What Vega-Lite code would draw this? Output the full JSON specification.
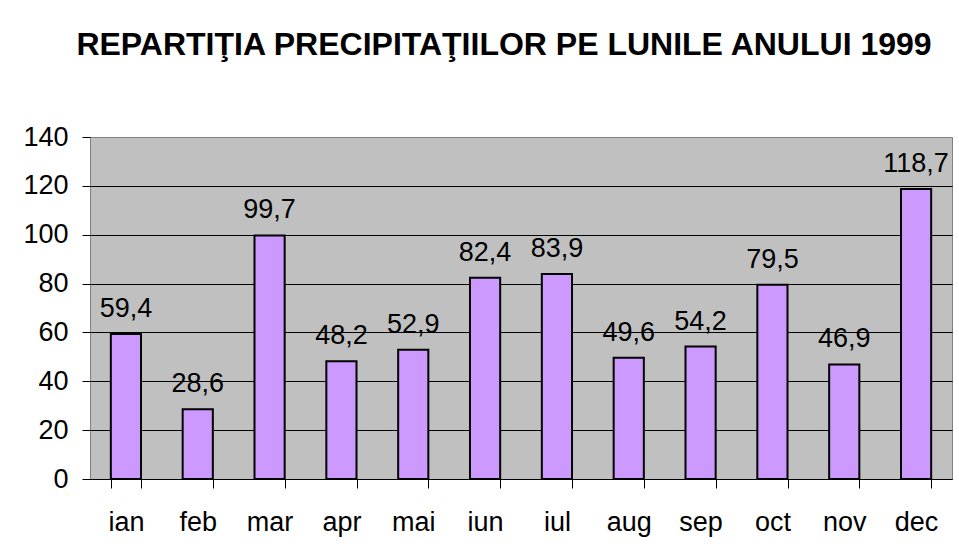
{
  "$schema": "https://vega.github.io/schema/vega-lite/v6.json",
  "autosize": {"type": "none"},
  "padding": {"left": 90, "top": 137, "right": 7, "bottom": 72},
  "width": 862,
  "height": 342,
  "background": "white",
  "title": {
    "text": "REPARTIŢIA PRECIPITAŢIILOR PE LUNILE ANULUI 1999",
    "font": "Liberation Sans",
    "fontSize": 32,
    "fontWeight": "bold",
    "color": "black",
    "anchor": "middle",
    "frame": "group",
    "baseline": "alphabetic",
    "offset": 36,
    "dx": -17
  },
  "config": {
    "locale": {"number": {"decimal": ",", "thousands": ".", "grouping": [3], "currency": ["", " lei"]}},
    "font": "Liberation Sans",
    "view": {"fill": "#C0C0C0", "stroke": "#808080", "strokeWidth": 1}
  },
  "data": {
    "values": [
      {"luna": "ian", "p": 59.4},
      {"luna": "feb", "p": 28.6},
      {"luna": "mar", "p": 99.7},
      {"luna": "apr", "p": 48.2},
      {"luna": "mai", "p": 52.9},
      {"luna": "iun", "p": 82.4},
      {"luna": "iul", "p": 83.9},
      {"luna": "aug", "p": 49.6},
      {"luna": "sep", "p": 54.2},
      {"luna": "oct", "p": 79.5},
      {"luna": "nov", "p": 46.9},
      {"luna": "dec", "p": 118.7}
    ]
  },
  "encoding": {
    "x": {
      "field": "luna",
      "type": "nominal",
      "sort": null,
      "scale": {"paddingInner": 0.58, "paddingOuter": 0.29},
      "axis": {
        "title": null,
        "labelAngle": 0,
        "labelFont": "Liberation Sans",
        "labelFontSize": 27,
        "labelColor": "black",
        "labelBaseline": "alphabetic",
        "labelPadding": 42,
        "tickBand": "extent",
        "tickSize": 9,
        "tickColor": "black",
        "domainColor": "black",
        "domainWidth": 1,
        "grid": false
      }
    },
    "y": {
      "field": "p",
      "type": "quantitative",
      "scale": {"domain": [0, 140], "nice": false},
      "axis": {
        "title": null,
        "values": [0, 20, 40, 60, 80, 100, 120, 140],
        "labelFont": "Liberation Sans",
        "labelFontSize": 27,
        "labelColor": "black",
        "labelPadding": 14,
        "tickSize": 8,
        "tickColor": "black",
        "domain": false,
        "grid": true,
        "gridColor": {"condition": {"test": "datum.value === 140", "value": "#808080"}, "value": "black"},
        "gridOpacity": 1,
        "gridWidth": 1
      }
    }
  },
  "layer": [
    {
      "mark": {"type": "bar", "fill": "#CC99FF", "stroke": "black", "strokeWidth": 2}
    },
    {
      "mark": {"type": "text", "baseline": "alphabetic", "dy": -17, "fontSize": 27, "color": "black", "font": "Liberation Sans"},
      "encoding": {"text": {"field": "p", "type": "quantitative", "format": ".1f"}}
    }
  ]
}
